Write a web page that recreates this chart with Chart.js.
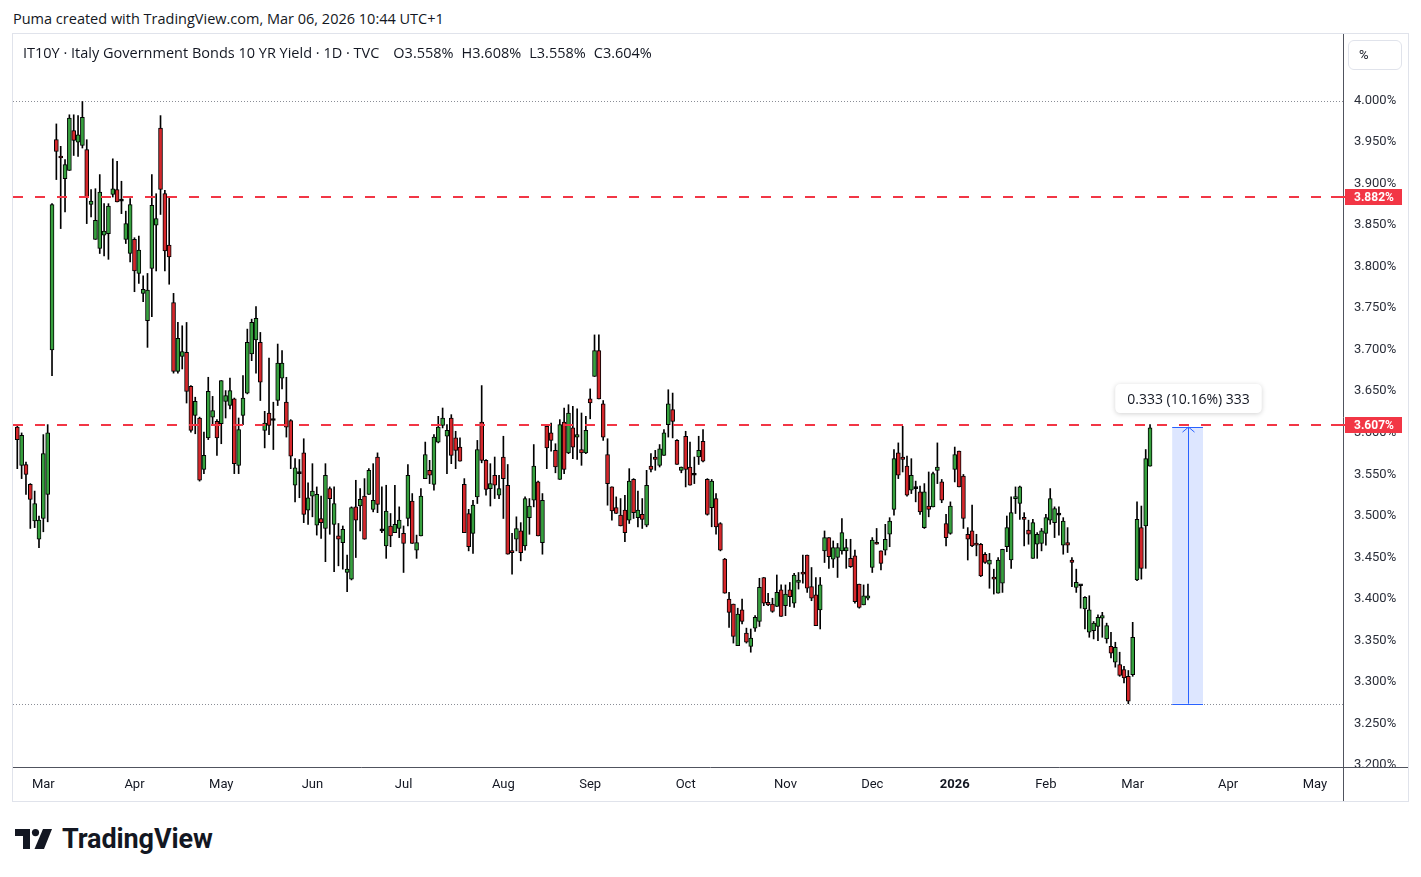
<!DOCTYPE html>
<html>
<head>
<meta charset="utf-8">
<title>IT10Y - Italy Government Bonds 10 YR Yield</title>
<script src="https://cdn.jsdelivr.net/npm/chart.js@4.4.1/dist/chart.umd.min.js"></script>
<style>
    body { margin: 0; background: #fff; font-family: "Open Sans", Roboto, sans-serif; color: #131722; }
    .page { position: relative; width: 1421px; height: 877px; overflow: hidden; }
    .top-note { position: absolute; left: 13px; top: 10px; font-size: 14.5px; line-height: 18px; white-space: nowrap; }
    .frame { position: absolute; left: 12px; top: 33px; width: 1397px; height: 769px; box-sizing: border-box; border: 1px solid #e0e3eb; }
    #chart { position: absolute; left: 13px; top: 34px; }
    .legend { position: absolute; left: 23px; top: 44px; font-size: 14.5px; line-height: 18px; white-space: nowrap; }
    .legend span { margin-left: 8px; }
    .legend span.first { margin-left: 14px; }
    .unit-btn { position: absolute; left: 1348px; top: 40px; width: 54px; height: 30px; box-sizing: border-box;
        border: 1px solid #e0e3eb; border-radius: 6px; font-size: 13px; line-height: 28px; padding-left: 10px; font-family: Roboto, sans-serif; }
    .logo { position: absolute; left: 15px; top: 823px; display: flex; align-items: center; font-family: Roboto, sans-serif; }
    .logo b { font-size: 27px; margin-left: 10px; letter-spacing: -0.1px; }
</style>
</head>
<body>
<div class="page">
    <div class="top-note">Puma created with TradingView.com, Mar 06, 2026 10:44 UTC+1</div>
    <div class="frame"></div>
    <canvas id="chart" width="1395" height="767"></canvas>
    <div class="legend">IT10Y · Italy Government Bonds 10 YR Yield · 1D · TVC<span class="first">O3.558%</span><span>H3.608%</span><span>L3.558%</span><span>C3.604%</span></div>
    <div class="unit-btn">%</div>
    <div class="logo">
        <svg width="37" height="20" viewBox="0 0 37 20">
            <path d="M0 0 H15 V20 H8 V7 H0 Z" fill="#131722"/>
            <circle cx="20.5" cy="3.6" r="3.6" fill="#131722"/>
            <path d="M28 0 H37 L29 20 H19.5 Z" fill="#131722"/>
        </svg>
        <b>TradingView</b>
    </div>
</div>
<script>
// 每日K线数据 (2025-02 下旬 ~ 2026-03-06)，按交易日序号排列
const opens = [
    3.605, 3.559, 3.560, 3.536, 3.492, 3.470, 3.495, 3.524, 3.698, 3.951,
    3.930, 3.904, 3.914, 3.962, 3.948, 3.944, 3.939, 3.873, 3.831, 3.820,
    3.836, 3.838, 3.885, 3.891, 3.877, 3.831, 3.814, 3.831, 3.790, 3.766,
    3.733, 3.796, 3.848, 3.965, 3.886, 3.824, 3.755, 3.672, 3.690, 3.695,
    3.654, 3.619, 3.616, 3.554, 3.592, 3.617, 3.612, 3.609, 3.636, 3.631,
    3.639, 3.559, 3.619, 3.646, 3.693, 3.710, 3.707, 3.601, 3.622, 3.613,
    3.637, 3.664, 3.635, 3.613, 3.535, 3.549, 3.574, 3.505, 3.522, 3.487,
    3.495, 3.483, 3.531, 3.488, 3.474, 3.466, 3.430, 3.422, 3.509, 3.510,
    3.522, 3.524, 3.506, 3.569, 3.480, 3.462, 3.486, 3.478, 3.483, 3.477,
    3.495, 3.516, 3.457, 3.474, 3.543, 3.553, 3.536, 3.587, 3.607, 3.594,
    3.616, 3.592, 3.581, 3.536, 3.501, 3.477, 3.521, 3.611, 3.565, 3.531,
    3.547, 3.523, 3.569, 3.535, 3.455, 3.470, 3.480, 3.462, 3.496, 3.517,
    3.539, 3.466, 3.606, 3.598, 3.577, 3.542, 3.611, 3.574, 3.604, 3.593,
    3.578, 3.574, 3.639, 3.666, 3.697, 3.633, 3.572, 3.533, 3.508, 3.499,
    3.505, 3.493, 3.542, 3.496, 3.500, 3.487, 3.558, 3.569, 3.559, 3.571,
    3.608, 3.626, 3.589, 3.553, 3.594, 3.557, 3.547, 3.569, 3.588, 3.542,
    3.508, 3.519, 3.489, 3.446, 3.398, 3.392, 3.342, 3.385, 3.357, 3.341,
    3.363, 3.371, 3.424, 3.394, 3.392, 3.389, 3.409, 3.390, 3.409, 3.393,
    3.418, 3.430, 3.451, 3.413, 3.403, 3.385, 3.456, 3.472, 3.446, 3.448,
    3.456, 3.456, 3.447, 3.450, 3.416, 3.391, 3.399, 3.436, 3.466, 3.456,
    3.457, 3.476, 3.506, 3.574, 3.569, 3.558, 3.529, 3.531, 3.527, 3.484,
    3.510, 3.509, 3.553, 3.539, 3.489, 3.477, 3.554, 3.576, 3.546, 3.476,
    3.480, 3.465, 3.464, 3.452, 3.440, 3.424, 3.405, 3.417, 3.461, 3.445,
    3.519, 3.513, 3.496, 3.481, 3.447, 3.464, 3.465, 3.477, 3.493, 3.490,
    3.499, 3.463, 3.466, 3.445, 3.412, 3.414, 3.386, 3.358, 3.360, 3.365,
    3.375, 3.350, 3.341, 3.322, 3.319, 3.313, 3.305, 3.307, 3.421, 3.484,
    3.486, 3.558
];
const highs = [
    3.608, 3.598, 3.563, 3.537, 3.528, 3.498, 3.596, 3.608, 3.874, 3.970,
    3.943, 3.927, 3.981, 3.981, 3.980, 3.997, 3.951, 3.891, 3.892, 3.909,
    3.874, 3.874, 3.928, 3.925, 3.901, 3.865, 3.880, 3.833, 3.835, 3.787,
    3.790, 3.909, 3.886, 3.980, 3.890, 3.882, 3.766, 3.731, 3.727, 3.731,
    3.655, 3.641, 3.617, 3.599, 3.665, 3.642, 3.614, 3.661, 3.649, 3.664,
    3.640, 3.616, 3.667, 3.723, 3.735, 3.750, 3.719, 3.624, 3.688, 3.635,
    3.705, 3.697, 3.665, 3.614, 3.567, 3.566, 3.591, 3.538, 3.561, 3.533,
    3.522, 3.561, 3.533, 3.533, 3.489, 3.486, 3.451, 3.509, 3.541, 3.531,
    3.543, 3.555, 3.561, 3.574, 3.533, 3.535, 3.501, 3.535, 3.509, 3.486,
    3.560, 3.525, 3.475, 3.531, 3.587, 3.565, 3.596, 3.618, 3.628, 3.608,
    3.620, 3.600, 3.592, 3.543, 3.506, 3.517, 3.589, 3.655, 3.566, 3.561,
    3.569, 3.547, 3.594, 3.560, 3.477, 3.497, 3.490, 3.521, 3.519, 3.584,
    3.540, 3.525, 3.608, 3.610, 3.585, 3.614, 3.628, 3.632, 3.630, 3.627,
    3.622, 3.618, 3.651, 3.716, 3.716, 3.637, 3.591, 3.533, 3.521, 3.519,
    3.523, 3.555, 3.543, 3.528, 3.519, 3.553, 3.573, 3.577, 3.584, 3.602,
    3.650, 3.646, 3.590, 3.557, 3.600, 3.587, 3.569, 3.594, 3.602, 3.543,
    3.542, 3.525, 3.490, 3.447, 3.406, 3.392, 3.387, 3.398, 3.363, 3.362,
    3.378, 3.423, 3.424, 3.405, 3.399, 3.427, 3.415, 3.415, 3.418, 3.429,
    3.430, 3.451, 3.451, 3.436, 3.424, 3.424, 3.480, 3.472, 3.468, 3.465,
    3.495, 3.470, 3.470, 3.457, 3.416, 3.415, 3.416, 3.472, 3.483, 3.456,
    3.488, 3.496, 3.578, 3.586, 3.606, 3.570, 3.567, 3.540, 3.534, 3.537,
    3.551, 3.551, 3.586, 3.542, 3.500, 3.515, 3.581, 3.576, 3.548, 3.484,
    3.511, 3.476, 3.465, 3.454, 3.453, 3.434, 3.448, 3.458, 3.498, 3.521,
    3.533, 3.534, 3.502, 3.493, 3.494, 3.478, 3.483, 3.500, 3.531, 3.509,
    3.509, 3.496, 3.484, 3.448, 3.434, 3.415, 3.401, 3.402, 3.371, 3.379,
    3.382, 3.369, 3.358, 3.346, 3.334, 3.317, 3.312, 3.370, 3.515, 3.510,
    3.578, 3.608
];
const lows = [
    3.555, 3.543, 3.524, 3.483, 3.484, 3.460, 3.479, 3.491, 3.667, 3.903,
    3.844, 3.864, 3.914, 3.932, 3.931, 3.941, 3.850, 3.858, 3.831, 3.814,
    3.811, 3.807, 3.882, 3.876, 3.862, 3.826, 3.804, 3.768, 3.778, 3.756,
    3.701, 3.738, 3.793, 3.861, 3.793, 3.777, 3.670, 3.670, 3.675, 3.634,
    3.599, 3.597, 3.540, 3.549, 3.590, 3.608, 3.571, 3.585, 3.616, 3.627,
    3.549, 3.549, 3.608, 3.645, 3.685, 3.670, 3.637, 3.580, 3.596, 3.578,
    3.631, 3.651, 3.593, 3.555, 3.515, 3.520, 3.490, 3.488, 3.497, 3.475,
    3.471, 3.443, 3.476, 3.431, 3.438, 3.434, 3.407, 3.421, 3.448, 3.480,
    3.470, 3.524, 3.503, 3.502, 3.478, 3.447, 3.461, 3.478, 3.472, 3.430,
    3.486, 3.465, 3.447, 3.474, 3.543, 3.537, 3.529, 3.586, 3.604, 3.549,
    3.561, 3.555, 3.564, 3.478, 3.456, 3.453, 3.513, 3.562, 3.523, 3.510,
    3.519, 3.519, 3.495, 3.452, 3.428, 3.456, 3.444, 3.457, 3.476, 3.509,
    3.474, 3.452, 3.555, 3.576, 3.550, 3.542, 3.549, 3.573, 3.567, 3.566,
    3.559, 3.573, 3.615, 3.666, 3.639, 3.589, 3.511, 3.493, 3.501, 3.486,
    3.467, 3.489, 3.495, 3.485, 3.483, 3.485, 3.551, 3.553, 3.557, 3.571,
    3.593, 3.592, 3.560, 3.550, 3.533, 3.535, 3.537, 3.560, 3.563, 3.499,
    3.485, 3.476, 3.456, 3.405, 3.364, 3.345, 3.342, 3.368, 3.345, 3.334,
    3.359, 3.365, 3.390, 3.390, 3.382, 3.389, 3.377, 3.378, 3.389, 3.388,
    3.410, 3.417, 3.406, 3.396, 3.366, 3.362, 3.442, 3.435, 3.436, 3.424,
    3.452, 3.435, 3.436, 3.393, 3.387, 3.391, 3.397, 3.430, 3.464, 3.433,
    3.451, 3.461, 3.499, 3.543, 3.551, 3.522, 3.525, 3.515, 3.500, 3.483,
    3.497, 3.509, 3.537, 3.514, 3.462, 3.476, 3.539, 3.533, 3.483, 3.445,
    3.461, 3.450, 3.425, 3.441, 3.411, 3.404, 3.405, 3.406, 3.455, 3.435,
    3.501, 3.494, 3.462, 3.464, 3.447, 3.447, 3.456, 3.463, 3.488, 3.472,
    3.475, 3.452, 3.454, 3.413, 3.406, 3.387, 3.362, 3.352, 3.350, 3.348,
    3.352, 3.345, 3.327, 3.316, 3.305, 3.297, 3.272, 3.305, 3.420, 3.422,
    3.435, 3.558
];
const closes = [
    3.590, 3.595, 3.548, 3.518, 3.513, 3.493, 3.573, 3.598, 3.873, 3.937,
    3.929, 3.921, 3.977, 3.950, 3.957, 3.978, 3.882, 3.877, 3.854, 3.888,
    3.841, 3.871, 3.892, 3.876, 3.877, 3.850, 3.873, 3.793, 3.818, 3.771,
    3.770, 3.872, 3.856, 3.891, 3.817, 3.810, 3.672, 3.712, 3.696, 3.648,
    3.601, 3.636, 3.541, 3.571, 3.648, 3.625, 3.592, 3.661, 3.643, 3.649,
    3.561, 3.602, 3.640, 3.707, 3.731, 3.736, 3.659, 3.610, 3.607, 3.613,
    3.682, 3.682, 3.605, 3.570, 3.556, 3.549, 3.500, 3.520, 3.528, 3.524,
    3.490, 3.547, 3.519, 3.513, 3.470, 3.482, 3.434, 3.508, 3.493, 3.518,
    3.470, 3.553, 3.517, 3.512, 3.480, 3.504, 3.474, 3.488, 3.493, 3.465,
    3.547, 3.465, 3.466, 3.522, 3.572, 3.547, 3.593, 3.605, 3.616, 3.601,
    3.571, 3.577, 3.564, 3.478, 3.461, 3.511, 3.578, 3.565, 3.530, 3.537,
    3.535, 3.531, 3.543, 3.452, 3.454, 3.483, 3.454, 3.519, 3.510, 3.558,
    3.474, 3.517, 3.580, 3.589, 3.557, 3.608, 3.554, 3.622, 3.581, 3.596,
    3.574, 3.601, 3.634, 3.697, 3.639, 3.593, 3.537, 3.504, 3.501, 3.486,
    3.478, 3.540, 3.502, 3.505, 3.494, 3.535, 3.554, 3.566, 3.579, 3.598,
    3.633, 3.612, 3.560, 3.557, 3.554, 3.535, 3.547, 3.577, 3.564, 3.500,
    3.540, 3.485, 3.457, 3.405, 3.382, 3.353, 3.380, 3.371, 3.346, 3.351,
    3.376, 3.412, 3.393, 3.391, 3.383, 3.406, 3.377, 3.404, 3.401, 3.427,
    3.421, 3.428, 3.411, 3.399, 3.366, 3.415, 3.472, 3.449, 3.460, 3.460,
    3.478, 3.460, 3.437, 3.395, 3.388, 3.402, 3.402, 3.469, 3.464, 3.441,
    3.470, 3.492, 3.567, 3.547, 3.566, 3.523, 3.547, 3.531, 3.503, 3.527,
    3.506, 3.549, 3.557, 3.517, 3.472, 3.510, 3.572, 3.533, 3.495, 3.470,
    3.462, 3.463, 3.426, 3.442, 3.445, 3.422, 3.445, 3.458, 3.484, 3.502,
    3.521, 3.533, 3.494, 3.476, 3.490, 3.476, 3.480, 3.496, 3.519, 3.507,
    3.499, 3.492, 3.463, 3.442, 3.418, 3.414, 3.400, 3.385, 3.369, 3.376,
    3.378, 3.366, 3.333, 3.340, 3.306, 3.303, 3.275, 3.352, 3.494, 3.435,
    3.567, 3.604
];

// 时间轴: 每月第一个交易日的序号与标签
const monthIdx = [6, 27, 47, 68, 89, 112, 132, 154, 177, 197, 216, 237, 257, 279, 299];
const monthLabels = ['Mar', 'Apr', 'May', 'Jun', 'Jul', 'Aug', 'Sep', 'Oct', 'Nov', 'Dec', '2026', 'Feb', 'Mar', 'Apr', 'May'];

// 价格轴刻度
const yTicks = [3.20, 3.25, 3.30, 3.35, 3.40, 3.45, 3.50, 3.55, 3.60, 3.65, 3.70, 3.75, 3.80, 3.85, 3.90, 3.95, 4.00];

// 画线: 红色水平虚线, 灰色点线, 区间测量
const redLevels = [3.882, 3.607];
const dottedLevels = [3.998, 3.272];
const measureIdx = [266.1, 273.2];
const measurePrice = [3.272, 3.605];
const measureText = '0.333 (10.16%) 333';

document.addEventListener('DOMContentLoaded', function() {
    const UP = '#36a03e';
    const DOWN = '#d5272b';
    const FONT = 'Roboto, "Liberation Sans", sans-serif';

    Chart.defaults.font.family = FONT;
    Chart.defaults.color = '#131722';

    const bodyData = opens.map((o, i) => ({ x: i, y: [Math.min(o, closes[i]), Math.max(o, closes[i])] }));
    const wickData = lows.map((l, i) => ({ x: i, y: [l, highs[i]] }));
    const bodyColors = opens.map((o, i) => closes[i] > o ? UP : (closes[i] < o ? DOWN : '#000'));

    // 去掉坐标轴为首尾标签预留的内边距, 让绘图区贴满画布
    function noPadding(scale) {
        scale.paddingTop = 0;
        scale.paddingBottom = 0;
        scale.paddingLeft = 0;
        scale.paddingRight = 0;
    }

    // 自定义绘制: 水平线、测量框、坐标轴边线和价格标签
    const overlay = {
        id: 'overlay',
        beforeDatasetsDraw(chart) {
            const { ctx, chartArea, scales: { y } } = chart;
            ctx.save();
            ctx.strokeStyle = '#8a8d96';
            ctx.lineWidth = 1;
            ctx.setLineDash([1, 2]);
            dottedLevels.forEach(v => {
                const py = Math.round(y.getPixelForValue(v)) + 0.5;
                ctx.beginPath();
                ctx.moveTo(chartArea.left, py);
                ctx.lineTo(chartArea.right, py);
                ctx.stroke();
            });
            ctx.restore();
        },
        afterDatasetsDraw(chart) {
            const { ctx, chartArea, scales: { x, y } } = chart;
            ctx.save();
            ctx.beginPath();
            ctx.rect(chartArea.left, chartArea.top, chartArea.right - chartArea.left, chartArea.bottom - chartArea.top);
            ctx.clip();

            // 红色虚线
            ctx.strokeStyle = '#f23645';
            ctx.lineWidth = 2;
            ctx.setLineDash([10, 12]);
            redLevels.forEach(v => {
                const py = Math.round(y.getPixelForValue(v));
                ctx.beginPath();
                ctx.moveTo(chartArea.left, py);
                ctx.lineTo(chartArea.right, py);
                ctx.stroke();
            });
            ctx.setLineDash([]);

            // 测量区域
            const x1 = x.getPixelForValue(measureIdx[0]);
            const x2 = x.getPixelForValue(measureIdx[1]);
            const yTop = y.getPixelForValue(measurePrice[1]);
            const yBot = y.getPixelForValue(measurePrice[0]);
            const xm = Math.round((x1 + x2) / 2) + 0.5;
            ctx.fillStyle = 'rgba(41, 98, 255, 0.16)';
            ctx.fillRect(x1, yTop, x2 - x1, yBot - yTop);
            ctx.strokeStyle = '#2962ff';
            ctx.lineWidth = 1;
            ctx.beginPath();
            ctx.moveTo(x1, Math.round(yTop) + 0.5); ctx.lineTo(x2, Math.round(yTop) + 0.5);
            ctx.moveTo(x1, Math.round(yBot) + 0.5); ctx.lineTo(x2, Math.round(yBot) + 0.5);
            ctx.moveTo(xm, yTop); ctx.lineTo(xm, yBot);
            ctx.moveTo(xm - 6, yTop + 5); ctx.lineTo(xm, yTop); ctx.lineTo(xm + 6, yTop + 5);
            ctx.stroke();

            // 测量标签
            ctx.font = '14px "Open Sans", Roboto, sans-serif';
            const tw = ctx.measureText(measureText).width;
            const bw = tw + 24, bh = 29;
            const bx = xm - bw / 2, by = yTop - 43;
            ctx.shadowColor = 'rgba(0, 0, 0, 0.18)';
            ctx.shadowBlur = 5;
            ctx.shadowOffsetY = 1;
            ctx.fillStyle = '#fff';
            ctx.beginPath();
            ctx.roundRect(bx, by, bw, bh, 5);
            ctx.fill();
            ctx.shadowColor = 'transparent';
            ctx.fillStyle = '#131722';
            ctx.textAlign = 'center';
            ctx.textBaseline = 'middle';
            ctx.fillText(measureText, xm, by + bh / 2 + 1);
            ctx.restore();
        },
        afterDraw(chart) {
            const { ctx, chartArea, scales: { y } } = chart;
            ctx.save();
            // 坐标轴边线
            ctx.strokeStyle = '#50535e';
            ctx.lineWidth = 1;
            ctx.beginPath();
            ctx.moveTo(chartArea.right + 0.5, 0);
            ctx.lineTo(chartArea.right + 0.5, chart.height);
            ctx.moveTo(0, chartArea.bottom + 0.5);
            ctx.lineTo(chart.width, chartArea.bottom + 0.5);
            ctx.stroke();

            // 右侧红色价格标签
            ctx.font = 'bold 12px ' + FONT;
            ctx.textBaseline = 'middle';
            redLevels.forEach(v => {
                const py = Math.round(y.getPixelForValue(v));
                ctx.fillStyle = '#f23645';
                ctx.fillRect(chartArea.right - 12, py - 1, 14, 2);
                ctx.fillRect(chartArea.right + 2, py - 8, 57, 16);
                ctx.fillStyle = '#fff';
                ctx.fillText(v.toFixed(3) + '%', chartArea.right + 11, py + 1);
            });
            ctx.restore();
        }
    };

    const chartCtx = document.getElementById('chart').getContext('2d');
    new Chart(chartCtx, {
        type: 'bar',
        data: {
            datasets: [{
                label: 'body',
                data: bodyData,
                backgroundColor: bodyColors,
                borderColor: '#000',
                borderWidth: 1,
                borderSkipped: false,
                barThickness: 4,
                minBarLength: 2,
                grouped: false,
                order: 0
            }, {
                label: 'wick',
                data: wickData,
                backgroundColor: '#000',
                borderWidth: 0,
                barThickness: 1,
                grouped: false,
                order: 1
            }]
        },
        options: {
            responsive: false,
            animation: false,
            devicePixelRatio: 1,
            layout: { padding: 0 },
            plugins: {
                legend: { display: false },
                tooltip: { enabled: false }
            },
            scales: {
                x: {
                    type: 'linear',
                    offset: false,
                    min: -0.99,
                    max: 305.46,
                    grid: { display: false, drawTicks: false },
                    border: { display: false },
                    afterBuildTicks: function(scale) {
                        scale.ticks = monthIdx.map(v => ({ value: v }));
                    },
                    afterFit: function(scale) {
                        scale.height = 34;
                        noPadding(scale);
                    },
                    ticks: {
                        autoSkip: false,
                        maxRotation: 0,
                        padding: 10,
                        color: '#131722',
                        font: function(c) {
                            return { size: 13, weight: c.index === 10 ? 'bold' : 'normal' };
                        },
                        callback: function(value) {
                            const k = monthIdx.indexOf(value);
                            return k >= 0 ? monthLabels[k] : '';
                        }
                    }
                },
                y: {
                    position: 'right',
                    min: 3.19583,
                    max: 4.07825,
                    grid: { display: false, drawTicks: false },
                    border: { display: false },
                    afterBuildTicks: function(scale) {
                        scale.ticks = yTicks.map(v => ({ value: v }));
                    },
                    afterFit: function(scale) {
                        scale.width = 65;
                        noPadding(scale);
                    },
                    ticks: {
                        padding: 11,
                        labelOffset: 1.5,
                        color: '#2a2e39',
                        font: { size: 13 },
                        callback: function(value) {
                            return value.toFixed(3) + '%';
                        }
                    }
                }
            }
        },
        plugins: [overlay]
    });
});
</script>
</body>
</html>
